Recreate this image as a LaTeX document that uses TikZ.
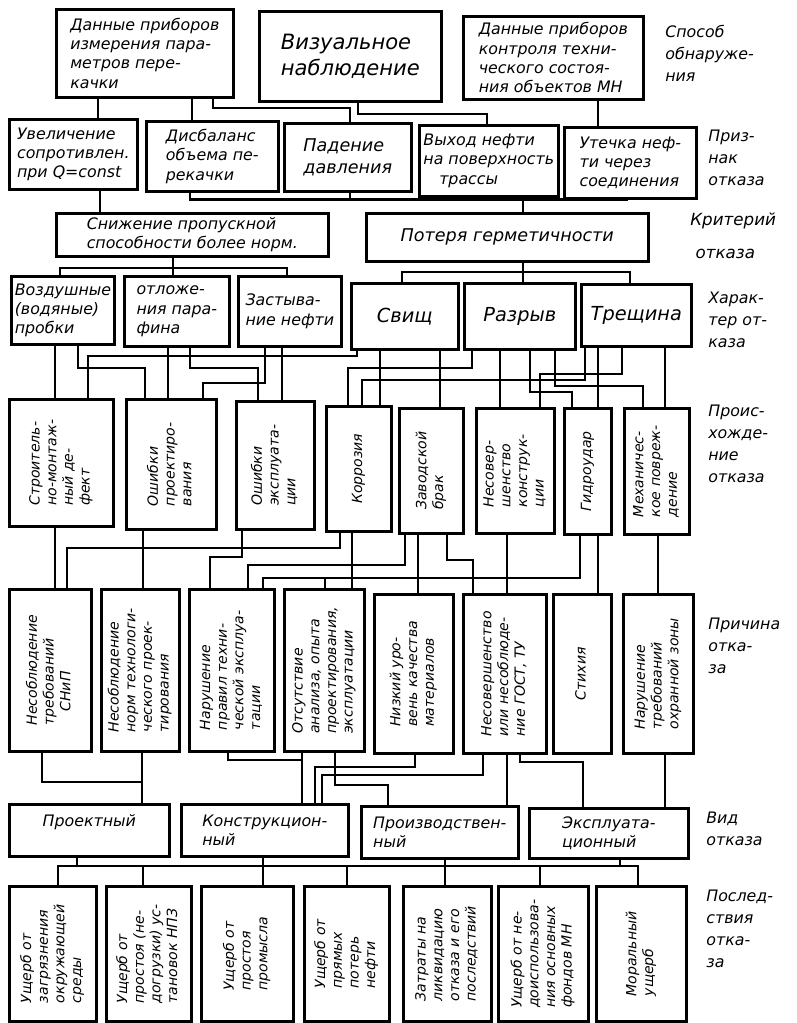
\documentclass[tikz,border=0pt]{standalone}
\usepackage{fontspec}
\setmainfont{DejaVu Sans}
\usepackage{graphicx}
\usetikzlibrary{calc}
\tikzstyle{block} = [draw, line width=1.5pt, anchor=north west, align=left, inner sep=2pt, font=\fontsize{9}{11}\selectfont\itshape]
\tikzstyle{vblock} = [block, font=\fontsize{8}{9.5}\selectfont\itshape]
\tikzstyle{side} = [anchor=north west, align=left, inner sep=0pt, font=\fontsize{9}{12.5}\selectfont\itshape]
\tikzstyle{wire} = [line width=1.3pt]
\newcommand{\vtxt}[1]{\rotatebox{90}{\begin{tabular}{@{}l@{}}#1\end{tabular}}}

\begin{document}
\begin{tikzpicture}[x=0.02cm, y=-0.02cm]
    \useasboundingbox (0,0) rectangle (796,1023);
    % sposob obnaruzheniya
    \node[block, minimum width=3.54cm, minimum height=1.76cm] (a1) at (55,8) {Данные приборов\\измерения пара-\\метров пере-\\качки};
    \node[block, minimum width=3.64cm, minimum height=1.80cm, font=\fontsize{12}{15}\selectfont\itshape] (a2) at (258,10) {Визуальное\\наблюдение};
    \node[block, minimum width=3.60cm, minimum height=1.66cm] (a3) at (462,15) {Данные приборов\\контроля техни-\\ческого состоя-\\ния объектов МН};
    % priznak otkaza
    \node[block, minimum width=2.56cm, minimum height=1.40cm] (b1) at (8,118) {Увеличение\\сопротивлен.\\при Q=const};
    \node[block, minimum width=2.64cm, minimum height=1.40cm] (b2) at (145,120) {Дисбаланс\\объема пе-\\рекачки};
    \node[block, minimum width=2.54cm, minimum height=1.36cm, font=\fontsize{10}{12}\selectfont\itshape] (b3) at (283,122) {Падение\\давления};
    \node[block, minimum width=2.78cm, minimum height=1.42cm] (b4) at (418,124) {Выход нефти\\на поверхность\\\quad трассы};
    \node[block, minimum width=2.64cm, minimum height=1.42cm] (b5) at (563,126) {Утечка неф-\\ти через\\соединения};
    % kriteriy otkaza
    \node[block, minimum width=5.44cm, minimum height=0.86cm] (c1) at (55,212) {Снижение пропускной\\способности более норм.};
    \node[block, minimum width=5.64cm, minimum height=0.96cm, font=\fontsize{10}{12}\selectfont\itshape] (c2) at (365,212) {Потеря герметичности};
    % harakter otkaza
    \node[block, minimum width=2.06cm, minimum height=1.36cm] (d1) at (10,275) {Воздушные\\(водяные)\\пробки};
    \node[block, minimum width=2.10cm, minimum height=1.40cm] (d2) at (123,275) {отложе-\\ния пара-\\фина};
    \node[block, minimum width=2.06cm, minimum height=1.40cm] (d3) at (237,275) {Застыва-\\ние нефти};
    \node[block, minimum width=2.14cm, minimum height=1.32cm, font=\fontsize{11}{13}\selectfont\itshape] (d4) at (350,282) {Свищ};
    \node[block, minimum width=2.22cm, minimum height=1.32cm, font=\fontsize{11}{13}\selectfont\itshape] (d5) at (463,282) {Разрыв};
    \node[block, minimum width=2.20cm, minimum height=1.24cm, font=\fontsize{11}{13}\selectfont\itshape] (d6) at (580,283) {Трещина};
    % proishozhdenie otkaza
    \node[vblock, minimum width=2.08cm, minimum height=2.54cm] (e1) at (8,398) {\vtxt{Строитель-\\но-монтаж-\\ный де-\\фект}};
    \node[vblock, minimum width=1.80cm, minimum height=2.60cm] (e2) at (125,398) {\vtxt{Ошибки\\проектиро-\\вания}};
    \node[vblock, minimum width=1.56cm, minimum height=2.56cm] (e3) at (235,400) {\vtxt{Ошибки\\эксплуата-\\ции}};
    \node[vblock, minimum width=1.30cm, minimum height=2.50cm] (e4) at (325,405) {\vtxt{Коррозия}};
    \node[vblock, minimum width=1.28cm, minimum height=2.50cm] (e5) at (398,407) {\vtxt{Заводской\\брак}};
    \node[vblock, minimum width=1.56cm, minimum height=2.50cm] (e6) at (475,407) {\vtxt{Несовер-\\шенство\\конструк-\\ции}};
    \node[vblock, minimum width=0.94cm, minimum height=2.52cm] (e7) at (563,407) {\vtxt{Гидроудар}};
    \node[vblock, minimum width=1.30cm, minimum height=2.52cm] (e8) at (623,407) {\vtxt{Механичес-\\кое повреж-\\дение}};
    % prichina otkaza
    \node[vblock, minimum width=1.64cm, minimum height=3.24cm] (f1) at (8,588) {\vtxt{Несоблюдение\\требований\\\quad СНиП}};
    \node[vblock, minimum width=1.56cm, minimum height=3.24cm] (f2) at (100,588) {\vtxt{Несоблюдение\\норм технологи-\\ческого проек-\\тирования}};
    \node[vblock, minimum width=1.70cm, minimum height=3.24cm] (f3) at (188,588) {\vtxt{Нарушение\\правил техни-\\ческой эксплуа-\\тации}};
    \node[vblock, minimum width=1.60cm, minimum height=3.24cm] (f4) at (283,588) {\vtxt{Отсутствие\\анализа, опыта\\проектирования,\\эксплуатации}};
    \node[vblock, minimum width=1.58cm, minimum height=3.18cm] (f5) at (373,593) {\vtxt{Низкий уро-\\вень качества\\материалов}};
    \node[vblock, minimum width=1.66cm, minimum height=3.18cm] (f6) at (462,593) {\vtxt{Несовершенство\\или несоблюде-\\ние ГОСТ, ТУ}};
    \node[vblock, minimum width=1.16cm, minimum height=3.18cm] (f7) at (552,593) {\vtxt{Стихия}};
    \node[vblock, minimum width=1.40cm, minimum height=3.18cm] (f8) at (622,593) {\vtxt{Нарушение\\требований\\охранной зоны}};
    % vid otkaza
    \node[block, minimum width=3.20cm, minimum height=1.04cm] (g1) at (8,803) {Проектный\\};
    \node[block, minimum width=3.34cm, minimum height=1.04cm] (g2) at (180,803) {Конструкцион-\\ный};
    \node[block, minimum width=3.14cm, minimum height=1.04cm] (g3) at (360,805) {Производствен-\\ный};
    \node[block, minimum width=3.18cm, minimum height=1.00cm] (g4) at (528,807) {Эксплуата-\\ционный};
    % posledstviya otkaza
    \node[vblock, minimum width=1.74cm, minimum height=2.70cm] (h1) at (8,885) {\vtxt{Ущерб от\\загрязнения\\окружающей\\среды}};
    \node[vblock, minimum width=1.70cm, minimum height=2.70cm] (h2) at (105,885) {\vtxt{Ущерб от\\простоя (не-\\догрузки) ус-\\тановок НПЗ}};
    \node[vblock, minimum width=1.84cm, minimum height=2.70cm] (h3) at (200,885) {\vtxt{Ущерб от\\простоя\\промысла}};
    \node[vblock, minimum width=1.70cm, minimum height=2.70cm] (h4) at (303,885) {\vtxt{Ущерб от\\прямых\\потерь\\нефти}};
    \node[vblock, minimum width=1.76cm, minimum height=2.70cm] (h5) at (402,885) {\vtxt{Затраты на\\ликвидацию\\отказа и его\\последствий}};
    \node[vblock, minimum width=1.80cm, minimum height=2.70cm] (h6) at (497,885) {\vtxt{Ущерб от не-\\доиспользова-\\ния основных\\фондов МН}};
    \node[vblock, minimum width=1.80cm, minimum height=2.70cm] (h7) at (595,885) {\vtxt{Моральный\\ущерб}};
    % side captions
    \node[side] (s1) at (665,25) {Способ\\обнаруже-\\ния};
    \node[side] (s2) at (708,130) {Приз-\\нак\\отказа};
    \node[side, font=\fontsize{9.5}{19}\selectfont\itshape] (s3) at (690,212) {Критерий\\\ отказа};
    \node[side] (s4) at (708,292) {Харак-\\тер от-\\каза};
    \node[side] (s5) at (708,405) {Проис-\\хожде-\\ние\\отказа};
    \node[side] (s6) at (708,618) {Причина\\отка-\\за};
    \node[side] (s7) at (706,812) {Вид\\отказа};
    \node[side] (s8) at (706,890) {Послед-\\ствия\\отка-\\за};

    \draw[wire] (a1.south -| 98,0) -- (b1.north -| 98,0);
    \draw[wire] (a1.south -| 192,0) -- (b2.north -| 192,0);
    \draw[wire] (a1.south -| 213,0) |- (350,108) -- (b3.north -| 350,0);
    \draw[wire] (a2.south -| 358,0) |- (487,114) -- (b4.north -| 487,0);
    \draw[wire] (a3.south -| 598,0) -- (b5.north -| 598,0);

    \draw[wire] (b1.south -| 100,0) -- (c1.north -| 100,0);
    \draw[wire] (b2.south -| 190,0) |- (b5.south -| 628,0);
    \draw[wire] (b3.south -| 350,0) -- (350,198);
    \draw[wire] (b4.south -| 490,0) -- (490,198);
    \draw[wire] (523,198) -- (c2.north -| 523,0);

    \draw[wire] (c1.south -| 173,0) -- (d2.north -| 173,0);
    \draw[wire] (d1.north -| 60,0) |- (287,268) -- (d3.north -| 287,0);
    \draw[wire] (c2.south -| 523,0) -- (d5.north -| 523,0);
    \draw[wire] (d4.north -| 402,0) |- (630,272) -- (d6.north -| 630,0);

    \draw[wire] (d1.south -| 55,0) -- (e1.north -| 55,0);
    \draw[wire] (d1.south -| 78,0) |- (145,368) -- (e2.north -| 145,0);
    \draw[wire] (d2.south -| 168,0) -- (e2.north -| 168,0);
    \draw[wire] (d2.south -| 190,0) |- (258,368) -- (e3.north -| 258,0);
    \draw[wire] (d3.south -| 265,0) |- (203,383) -- (e2.north -| 203,0);
    \draw[wire] (d3.south -| 282,0) -- (e3.north -| 282,0);
    \draw[wire] (d4.south -| 357,0) |- (88,356) -- (e1.north -| 88,0);
    \draw[wire] (d4.south -| 380,0) -- (e4.north -| 380,0);
    \draw[wire] (d4.south -| 440,0) -- (e5.north -| 440,0);
    \draw[wire] (d5.south -| 472,0) |- (348,368) -- (e4.north -| 348,0);
    \draw[wire] (d6.south -| 585,0) |- (362,380) -- (e4.north -| 362,0);
    \draw[wire] (d5.south -| 500,0) -- (e6.north -| 500,0);
    \draw[wire] (d5.south -| 530,0) |- (572,392) -- (e7.north -| 572,0);
    \draw[wire] (d5.south -| 555,0) |- (643,386) -- (e8.north -| 643,0);
    \draw[wire] (d6.south -| 598,0) -- (e7.north -| 598,0);
    \draw[wire] (d6.south -| 622,0) |- (540,374) -- (e6.north -| 540,0);
    \draw[wire] (d6.south -| 665,0) -- (e8.north -| 665,0);

    \draw[wire] (e1.south -| 55,0) -- (f1.north -| 55,0);
    \draw[wire] (e4.south -| 340,0) |- (67,548) -- (f1.north -| 67,0);
    \draw[wire] (e2.south -| 143,0) -- (f2.north -| 143,0);
    \draw[wire] (e3.south -| 242,0) |- (210,557) -- (f3.north -| 210,0);
    \draw[wire] (e5.south -| 405,0) |- (248,565) -- (f3.north -| 248,0);
    \draw[wire] (e7.south -| 580,0) |- (263,578) -- (f3.north -| 263,0);
    \draw[wire] (325,578) -- (f4.north -| 325,0);
    \draw[wire] (e4.south -| 352,0) -- (f4.north -| 352,0);
    \draw[wire] (e5.south -| 418,0) -- (f5.north -| 418,0);
    \draw[wire] (e5.south -| 447,0) |- (473,560) -- (f6.north -| 473,0);
    \draw[wire] (e6.south -| 507,0) -- (f6.north -| 507,0);
    \draw[wire] (e7.south -| 598,0) -- (f7.north -| 598,0);
    \draw[wire] (e8.south -| 658,0) -- (f8.north -| 658,0);

    \draw[wire] (f1.south -| 42,0) |- (142,782);
    \draw[wire] (f2.south -| 142,0) -- (g1.north -| 142,0);
    \draw[wire] (f3.south -| 228,0) |- (302,760);
    \draw[wire] (f4.south -| 302,0) -- (g2.north -| 302,0);
    \draw[wire] (f5.south -| 415,0) |- (315,767) -- (g2.north -| 315,0);
    \draw[wire] (f6.south -| 483,0) |- (322,775) -- (g2.north -| 322,0);
    \draw[wire] (f4.south -| 335,0) |- (388,785) -- (g3.north -| 388,0);
    \draw[wire] (f6.south -| 507,0) -- (g3.north -| 507,0);
    \draw[wire] (f6.south -| 520,0) |- (583,762) -- (g4.north -| 583,0);
    \draw[wire] (f8.south -| 665,0) -- (g4.north -| 665,0);

    \draw[wire] (h1.north -| 58,0) |- (638,866) -- (h7.north -| 638,0);
    \draw[wire] (g1.south -| 77,0) -- (77,866);
    \draw[wire] (g2.south -| 263,0) -- (h3.north -| 263,0);
    \draw[wire] (g3.south -| 445,0) -- (h5.north -| 445,0);
    \draw[wire] (g4.south -| 620,0) -- (620,866);
    \draw[wire] (143,866) -- (h2.north -| 143,0);
    \draw[wire] (347,866) -- (h4.north -| 347,0);
    \draw[wire] (540,866) -- (h6.north -| 540,0);
\end{tikzpicture}
\end{document}
